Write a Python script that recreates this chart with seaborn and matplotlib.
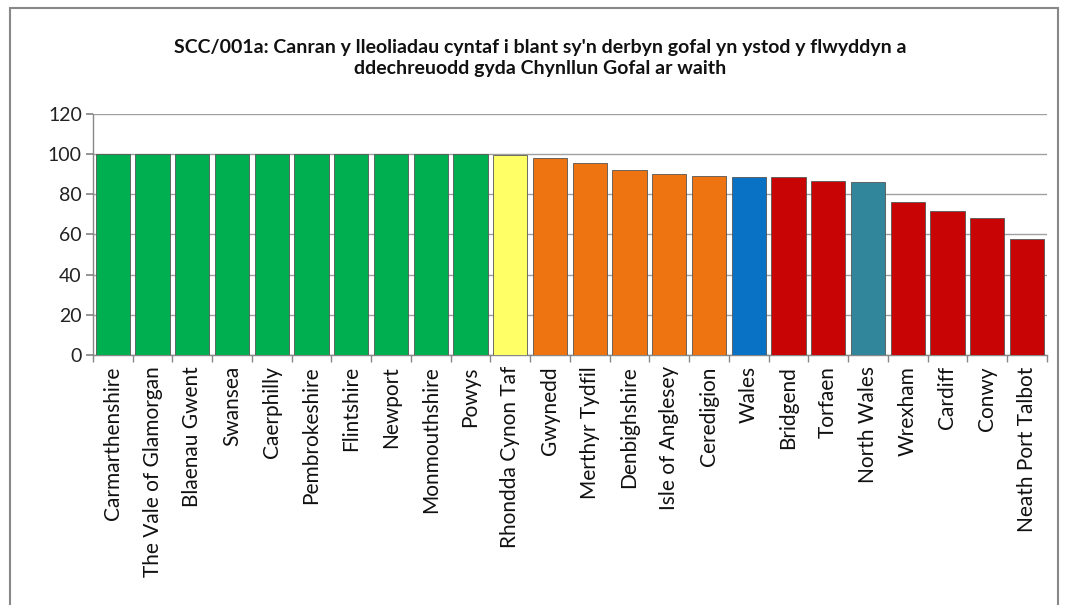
import matplotlib
matplotlib.use("Agg")
import matplotlib.pyplot as plt
from matplotlib.patches import Rectangle
import pandas as pd
import seaborn as sns

# data
areas = ["Carmarthenshire", "The Vale of Glamorgan", "Blaenau Gwent", "Swansea",
         "Caerphilly", "Pembrokeshire", "Flintshire", "Newport", "Monmouthshire",
         "Powys", "Rhondda Cynon Taf", "Gwynedd", "Merthyr Tydfil", "Denbighshire",
         "Isle of Anglesey", "Ceredigion", "Wales", "Bridgend", "Torfaen",
         "North Wales", "Wrexham", "Cardiff", "Conwy", "Neath Port Talbot"]
values = [100, 100, 100, 100, 100, 100, 100, 100, 100, 100,
          99.8, 98.1, 95.4, 92.2, 90.3, 89.2, 88.5, 88.5, 86.5,
          85.9, 76.3, 71.8, 68.0, 57.9]
bands = ["top"] * 10 + ["upper"] + ["middle"] * 5 + ["wales"] + ["lower"] * 2 + \
        ["north"] + ["lower"] * 4

band_colours = {"top": "#00B050", "upper": "#FFFF66", "middle": "#EE7311",
                "wales": "#0A72C4", "lower": "#C80404", "north": "#31869B"}

title = ("SCC/001a: Canran y lleoliadau cyntaf i blant sy'n derbyn gofal yn ystod y flwyddyn a\n"
         "ddechreuodd gyda Chynllun Gofal ar waith")

df = pd.DataFrame({"area": areas, "value": values, "band": bands})

sns.set_theme(style="white")
plt.rcParams["font.family"] = ["Lato", "DejaVu Sans"]

fig = plt.figure(figsize=(10.66, 6.05), dpi=100)
ax = fig.add_axes([0.0872, 0.4132, 0.8948, 0.3984])

sns.barplot(data=df, x="area", y="value", hue="band", palette=band_colours,
            saturation=1, dodge=False, width=0.86, legend=False, ax=ax,
            edgecolor="#555555", linewidth=0.6, zorder=3)

ax.set_ylim(0, 120)
ax.set_xlim(-0.5, len(areas) - 0.5)
ax.set_yticks(range(0, 121, 20))
ax.yaxis.grid(True, color="#A0A0A0", linewidth=1, zorder=0)
ax.set_axisbelow(True)
ax.set_xlabel("")
ax.set_ylabel("")

for side in ["top", "right"]:
    ax.spines[side].set_visible(False)
for side in ["left", "bottom"]:
    ax.spines[side].set_color("#888888")
    ax.spines[side].set_linewidth(1)

ax.tick_params(axis="y", which="major", left=True, length=5, color="#888888",
               labelsize=14, pad=3, labelcolor="#222222")
ax.set_xticks(range(len(areas)))
ax.set_xticklabels(areas, rotation=90, fontsize=15, color="#111111")
ax.tick_params(axis="x", which="major", length=0, pad=8)
ax.set_xticks([i - 0.5 for i in range(len(areas) + 1)], minor=True)
ax.tick_params(axis="x", which="minor", bottom=True, length=5, color="#888888")

fig.text(0.507, 0.904, title, ha="center", va="center", fontsize=14,
         fontweight="bold", color="#111111", linespacing=1.3)

# outer chart border
fig.patches.append(Rectangle((0.0094, -0.02), 0.983, 1.0068, transform=fig.transFigure,
                             fill=False, edgecolor="#888888", linewidth=1.5))

fig.savefig("out.png", dpi=100)
